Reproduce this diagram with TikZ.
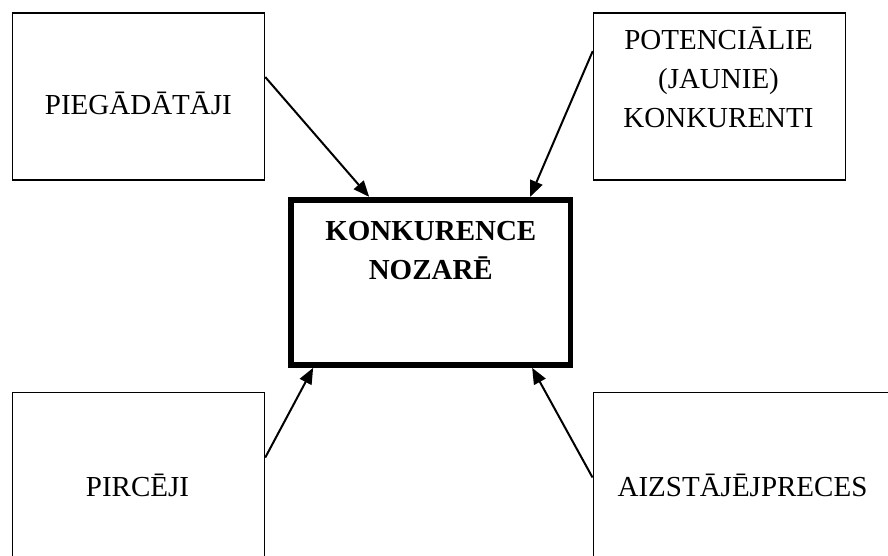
\documentclass[tikz,border=0pt]{standalone}
\usepackage{fontspec}
\setmainfont{Liberation Serif}
\usetikzlibrary{arrows.meta,calc}

\tikzset{
  forcebox/.style={draw=black, line width=1.5pt, rectangle, inner sep=0pt,
    minimum width=252pt, minimum height=167pt},
  corebox/.style={draw=black, line width=5.7pt, rectangle, inner sep=0pt,
    minimum width=279.5pt, minimum height=165.3pt},
  lbl/.style={anchor=base, inner sep=0pt,
    font=\fontsize{29}{39.3}\selectfont},
  force/.style={draw=black, line width=2pt,
    -{Triangle[length=16pt,width=13pt]}},
}

\begin{document}
\begin{tikzpicture}[x=1pt, y=-1pt]
  \useasboundingbox (0,0) rectangle (888,556);
  \clip (0,0) rectangle (888,556);

  % the four outer forces and the central box
  \node[forcebox] (tl) at (138.5, 96.3) {};
  \node[forcebox] (tr) at (719.5, 96.3) {};
  \node[forcebox, minimum height=200pt] (bl) at (138.5, 492.3) {};
  \node[forcebox, minimum width=320pt, minimum height=200pt] (br) at (753.3, 492.3) {};
  \node[corebox] (kc) at (430.75, 282.35) {};

  % captions
  \node[lbl] (tlt) at (138.4, 115) {PIEGĀDĀTĀJI};
  \node[lbl] (trt) at (718.5, 49.3) {\begin{tabular}[t]{@{}c@{}}POTENCIĀLIE\\(JAUNIE)\\KONKURENTI\end{tabular}};
  \node[lbl] (kct) at (430.8, 240) {\bfseries\begin{tabular}[t]{@{}c@{}}KONKURENCE\\NOZARĒ\end{tabular}};
  \node[lbl] (blt) at (137.5, 496) {PIRCĒJI};
  \node[lbl] (brt) at (742.5, 496) {AIZSTĀJĒJPRECES};

  % arrows into the central box
  \draw[force] ($(tl.north east)+(0,65)$) -- ($(kc.north west)+(81,0)$);
  \draw[force] ($(tr.north west)+(0,39)$) -- ($(kc.north west)+(242,0)$);
  \draw[force] ($(bl.north east)+(0,66)$) -- ($(kc.south west)+(25,0)$);
  \draw[force] ($(br.north west)+(0,86)$) -- ($(kc.south west)+(244,0)$);
\end{tikzpicture}
\end{document}
